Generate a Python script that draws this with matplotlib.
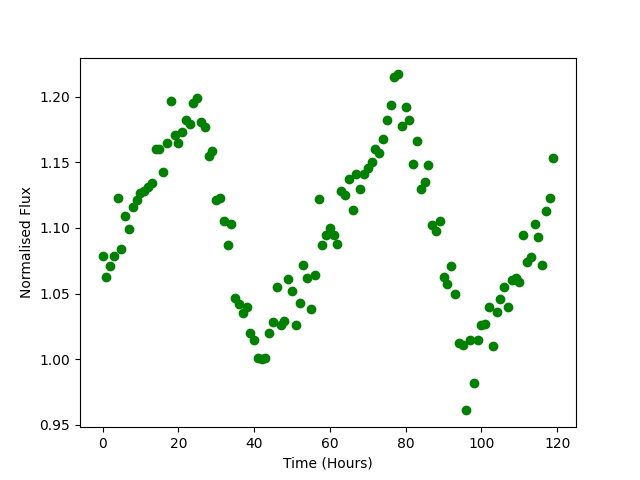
import numpy as np
import matplotlib
matplotlib.use('Agg')
import matplotlib.pyplot as plt

# hourly flux readings
hours = np.arange(120)
flux = [
    1.079, 1.063, 1.071, 1.079, 1.123, 1.084, 1.109, 1.099, 1.116, 1.121,
    1.127, 1.128, 1.131, 1.134, 1.160, 1.160, 1.143, 1.165, 1.197, 1.171,
    1.165, 1.173, 1.182, 1.179, 1.195, 1.199, 1.181, 1.177, 1.155, 1.159,
    1.121, 1.123, 1.105, 1.087, 1.103, 1.047, 1.042, 1.035, 1.040, 1.020,
    1.015, 1.001, 1.000, 1.001, 1.020, 1.028, 1.055, 1.026, 1.029, 1.061,
    1.052, 1.026, 1.043, 1.072, 1.062, 1.038, 1.064, 1.122, 1.087, 1.095,
    1.100, 1.095, 1.088, 1.128, 1.125, 1.137, 1.114, 1.141, 1.130, 1.141,
    1.146, 1.150, 1.160, 1.157, 1.168, 1.182, 1.194, 1.215, 1.217, 1.178,
    1.192, 1.182, 1.149, 1.166, 1.130, 1.135, 1.148, 1.102, 1.098, 1.105,
    1.063, 1.057, 1.071, 1.050, 1.012, 1.011, 0.961, 1.015, 0.982, 1.015,
    1.026, 1.027, 1.040, 1.010, 1.036, 1.046, 1.055, 1.040, 1.060, 1.062,
    1.059, 1.095, 1.074, 1.078, 1.103, 1.093, 1.072, 1.113, 1.123, 1.153,
]

fig, ax = plt.subplots(figsize=(6.4, 4.8), dpi=100)
ax.plot(hours, flux, 'o', color='green')
ax.set_xlabel('Time (Hours)')
ax.set_ylabel('Normalised Flux')

plt.savefig('out.png')
